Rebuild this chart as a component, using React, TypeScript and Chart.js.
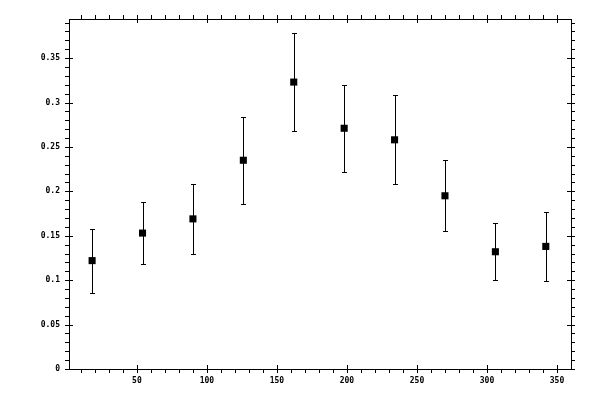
import React, { useEffect, useRef } from 'react';
import { Chart, registerables } from 'chart.js';

Chart.register(...registerables);

const X_VALUES = [18, 54, 90, 126, 162, 198, 234, 270, 306, 342];
const Y_VALUES = [0.122, 0.153, 0.169, 0.235, 0.323, 0.271, 0.258, 0.195, 0.132, 0.138];
const Y_ERRORS = [0.036, 0.035, 0.039, 0.049, 0.055, 0.049, 0.05, 0.04, 0.032, 0.039];

// tick labels
const X_TICKS = [50, 100, 150, 200, 250, 300, 350];
const Y_TICKS = [0, 0.05, 0.1, 0.15, 0.2, 0.25, 0.3, 0.35];

const X_MIN = 1.5;
const X_MAX = 360;
const Y_MIN = 0;
const Y_MAX = 0.394;

const FONT = { family: '"DejaVu Sans Mono", monospace', size: 8, weight: 'bold' as const };

const px = (v: number) => Math.round(v) + 0.5;

// vertical error bars with small caps
const errorBars = {
  id: 'errorBars',
  afterDatasetsDraw(chart: Chart) {
    const { ctx, scales } = chart;
    const xs = scales.x;
    const ys = scales.y;
    ctx.save();
    ctx.strokeStyle = '#000';
    ctx.lineWidth = 1;
    X_VALUES.forEach((xv, i) => {
      const x = px(xs.getPixelForValue(xv));
      const top = px(ys.getPixelForValue(Y_VALUES[i] + Y_ERRORS[i]));
      const bot = px(ys.getPixelForValue(Y_VALUES[i] - Y_ERRORS[i]));
      ctx.beginPath();
      ctx.moveTo(x, top);
      ctx.lineTo(x, bot);
      ctx.moveTo(x - 2.5, top);
      ctx.lineTo(x + 2.5, top);
      ctx.moveTo(x - 2.5, bot);
      ctx.lineTo(x + 2.5, bot);
      ctx.stroke();
    });
    ctx.restore();
  },
};

// major ticks cross the frame, minor ticks sit outside; on all four sides
const frameTicks = {
  id: 'frameTicks',
  afterDraw(chart: Chart) {
    const { ctx, chartArea: a, scales } = chart;
    const xs = scales.x;
    const ys = scales.y;
    ctx.save();
    ctx.strokeStyle = '#000';
    ctx.lineWidth = 1;
    ctx.beginPath();
    for (let v = 10; v < X_MAX; v += 10) {
      if (v < X_MIN) continue;
      const x = px(xs.getPixelForValue(v));
      const major = v % 50 === 0;
      ctx.moveTo(x, a.bottom - (major ? 4 : 0));
      ctx.lineTo(x, a.bottom + 4);
      ctx.moveTo(x, a.top + (major ? 4 : 0));
      ctx.lineTo(x, a.top - 4);
    }
    for (let i = 0; i <= 39; i++) {
      const v = i / 100;
      if (v > Y_MAX) break;
      const y = px(ys.getPixelForValue(v));
      const major = i % 5 === 0;
      ctx.moveTo(a.left + (major ? 4 : 0), y);
      ctx.lineTo(a.left - 4, y);
      ctx.moveTo(a.right - (major ? 4 : 0), y);
      ctx.lineTo(a.right + 4, y);
    }
    ctx.stroke();
    ctx.restore();
  },
};

const App: React.FC = () => {
  const canvasRef = useRef<HTMLCanvasElement>(null);
  const chartRef = useRef<Chart | null>(null);

  useEffect(() => {
    if (!canvasRef.current) return;
    if (chartRef.current) chartRef.current.destroy();

    const points = X_VALUES.map((x, i) => ({ x, y: Y_VALUES[i] }));

    chartRef.current = new Chart(canvasRef.current, {
      type: 'scatter',
      data: {
        datasets: [{
          data: points,
          pointStyle: 'rect',
          pointRadius: 5,
          pointBorderWidth: 0,
          backgroundColor: '#000',
          borderColor: '#000',
        }],
      },
      options: {
        responsive: false,
        animation: false,
        layout: { padding: 0 },
        plugins: { legend: { display: false }, tooltip: { enabled: false } },
        scales: {
          x: {
            type: 'linear',
            position: 'bottom',
            min: X_MIN,
            max: X_MAX,
            grid: { display: false, drawTicks: false },
            border: { display: true, color: '#000', width: 1 },
            afterBuildTicks: (s: any) => { s.ticks = X_TICKS.map(value => ({ value })); },
            afterFit: (s: any) => { s.height = 31; },
            ticks: { color: '#000', font: FONT, padding: 7, maxRotation: 0, autoSkip: false },
          },
          x2: {
            type: 'linear',
            position: 'top',
            min: X_MIN,
            max: X_MAX,
            grid: { display: false, drawTicks: false },
            border: { display: true, color: '#000', width: 1 },
            afterFit: (s: any) => { s.height = 19; },
            ticks: { display: false },
          },
          y: {
            type: 'linear',
            position: 'left',
            min: Y_MIN,
            max: Y_MAX,
            grid: { display: false, drawTicks: false },
            border: { display: true, color: '#000', width: 1 },
            afterBuildTicks: (s: any) => { s.ticks = Y_TICKS.map(value => ({ value })); },
            afterFit: (s: any) => { s.width = 69; },
            ticks: {
              color: '#000',
              font: FONT,
              padding: 9,
              autoSkip: false,
              callback: (v: any) => String(Math.round(Number(v) * 100) / 100),
            },
          },
          y2: {
            type: 'linear',
            position: 'right',
            min: Y_MIN,
            max: Y_MAX,
            grid: { display: false, drawTicks: false },
            border: { display: true, color: '#000', width: 1 },
            afterFit: (s: any) => { s.width = 29; },
            ticks: { display: false },
          },
        },
      },
      plugins: [errorBars, frameTicks],
    });

    return () => {
      if (chartRef.current) {
        chartRef.current.destroy();
        chartRef.current = null;
      }
    };
  }, []);

  return (
    <div style={{ position: 'absolute', left: 0, top: 0, width: 600, height: 400, background: '#fff' }}>
      <canvas ref={canvasRef} width={600} height={400} style={{ display: 'block' }} />
    </div>
  );
};

export default App;
